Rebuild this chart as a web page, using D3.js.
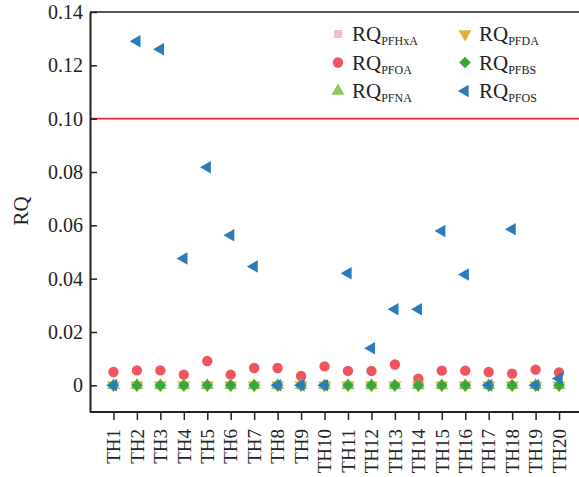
<!DOCTYPE html>
<html>
<head>
<meta charset="utf-8">
<script src="https://cdn.jsdelivr.net/npm/d3@7"></script>
<style>
  body { margin: 0; background: #fff; }
  svg text { font-family: "Liberation Serif", "Times New Roman", serif; fill: #222; }
</style>
</head>
<body>
<div id="chart"></div>
<script>
// sites along the x axis
var sites = ['TH1', 'TH2', 'TH3', 'TH4', 'TH5', 'TH6', 'TH7', 'TH8', 'TH9', 'TH10',
             'TH11', 'TH12', 'TH13', 'TH14', 'TH15', 'TH16', 'TH17', 'TH18', 'TH19', 'TH20'];

// RQ values
var pfhxa = [0, 0, 0, 0, 0, 0, 0, 0, 0, 0, 0, 0, 0, 0, 0, 0, 0, 0, 0, 0];
var pfoa = [0.0050, 0.0056, 0.0056, 0.0040, 0.0091, 0.0040, 0.0065, 0.0065, 0.0035, 0.0071,
            0.0054, 0.0054, 0.0078, 0.0025, 0.0055, 0.0055, 0.0050, 0.0044, 0.0059, 0.0048];
var pfna = [0, 0, 0, 0, 0, 0, 0, 0, 0, 0, 0, 0, 0, 0, 0, 0, 0, 0, 0, 0];
var pfda = [0, 0, 0, 0, 0, 0, 0, 0, 0, 0, 0, 0, 0, 0, 0, 0, 0, 0, 0, 0];
var pfbs = [0, 0, 0, 0, 0, 0, 0, 0, 0, 0, 0, 0, 0, 0, 0, 0, 0, 0, 0, 0];
var pfos = [0, 0.129, 0.126, 0.0476, 0.0818, 0.0563, 0.0446, 0, 0, 0,
            0.0420, 0.0139, 0.0285, 0.0285, 0.0579, 0.0416, 0, 0.0585, 0, 0.0026];

var yTicks = [0, 0.02, 0.04, 0.06, 0.08, 0.10, 0.12, 0.14];
var threshold = 0.10;

// svg setup
var svgWidth = 579;
var svgHeight = 477;
var plot = { left: 90, top: 12, bottom: 412, right: 582.5 };

var svg = d3.select('#chart')
    .append('svg')
    .attr('width', svgWidth)
    .attr('height', svgHeight);

// scales
var x = d3.scalePoint()
    .domain(sites)
    .range([plot.left, plot.right])
    .padding(1);

var y = d3.scaleLinear()
    .domain([-0.01, 0.14])
    .range([plot.bottom, plot.top]);

// series list (draw order, legend order)
var series = [
    { name: 'PFHxA', values: pfhxa, color: '#f3b8d5', shape: d3.symbolSquare, size: 64, rot: 0 },
    { name: 'PFOA', values: pfoa, color: '#ef5460', shape: d3.symbolCircle, size: 85, rot: 0 },
    { name: 'PFNA', values: pfna, color: '#8cc95a', shape: d3.symbolTriangle, size: 72, rot: 0 },
    { name: 'PFDA', values: pfda, color: '#dab23c', shape: d3.symbolTriangle, size: 72, rot: 180 },
    { name: 'PFBS', values: pfbs, color: '#3ca63c', shape: d3.symbolSquare, size: 68, rot: 45 },
    { name: 'PFOS', values: pfos, color: '#2b7bba', shape: d3.symbolTriangle, size: 68, rot: -90 }
];

// top frame line
svg.append('line')
    .attr('x1', plot.left).attr('x2', svgWidth)
    .attr('y1', plot.top).attr('y2', plot.top)
    .attr('stroke', '#222')
    .attr('stroke-width', 1.6);

// threshold line
svg.append('line')
    .attr('x1', plot.left).attr('x2', svgWidth)
    .attr('y1', y(threshold)).attr('y2', y(threshold))
    .attr('stroke', '#ec2a30')
    .attr('stroke-width', 1.6);

// axes
var leftAxis = d3.axisLeft(y)
    .tickValues(yTicks)
    .tickSize(-7)
    .tickSizeOuter(0)
    .tickPadding(7)
    .tickFormat(d => d === 0 ? '0' : d3.format('.2f')(d));

var gy = svg.append('g')
    .attr('transform', `translate(${plot.left}, 0)`)
    .call(leftAxis);
gy.select('.domain').attr('stroke', '#222').attr('stroke-width', 2);
gy.selectAll('.tick line').attr('stroke', '#222').attr('stroke-width', 1.5);
gy.selectAll('.tick text').style('font-size', '20px').attr('fill', '#222');

var bottomAxis = d3.axisBottom(x)
    .tickSize(8)
    .tickSizeOuter(0);

var gx = svg.append('g')
    .attr('transform', `translate(0, ${plot.bottom})`)
    .call(bottomAxis);
gx.select('.domain').attr('stroke', '#222').attr('stroke-width', 2)
    .attr('d', `M${plot.left},0H${svgWidth}`);
gx.selectAll('.tick line').attr('stroke', '#222').attr('stroke-width', 1.5);
gx.selectAll('.tick text')
    .style('font-size', '19px')
    .attr('fill', '#222')
    .attr('transform', 'rotate(-90)')
    .attr('x', -17)
    .attr('y', 0)
    .attr('dy', '0.33em')
    .style('text-anchor', 'end');

// y axis title
svg.append('text')
    .attr('transform', 'translate(28, 211) rotate(-90)')
    .attr('text-anchor', 'middle')
    .style('font-size', '21px')
    .text('RQ');

// points
series.forEach(function(s) {
    var sym = d3.symbol().type(s.shape).size(s.size);
    svg.append('g')
        .selectAll('path')
        .data(s.values)
        .enter()
        .append('path')
        .attr('d', sym)
        .attr('transform', (d, i) => `translate(${x(sites[i])}, ${y(d)}) rotate(${s.rot})`)
        .attr('fill', s.color);
});

// legend
var legend = svg.append('g');
series.forEach(function(s, i) {
    var col = Math.floor(i / 3);
    var row = i % 3;
    var lx = 338 + col * 127;
    var ly = 34 + row * 28.5;
    var sym = d3.symbol().type(s.shape).size(s.size);
    legend.append('path')
        .attr('d', sym)
        .attr('transform', `translate(${lx}, ${ly}) rotate(${s.rot})`)
        .attr('fill', s.color);
    var t = legend.append('text')
        .attr('x', lx + 14)
        .attr('y', ly + 7)
        .style('font-size', '21px');
    t.append('tspan').text('RQ');
    t.append('tspan')
        .attr('dy', 4)
        .style('font-size', '12px')
        .text(s.name);
});
</script>
</body>
</html>
